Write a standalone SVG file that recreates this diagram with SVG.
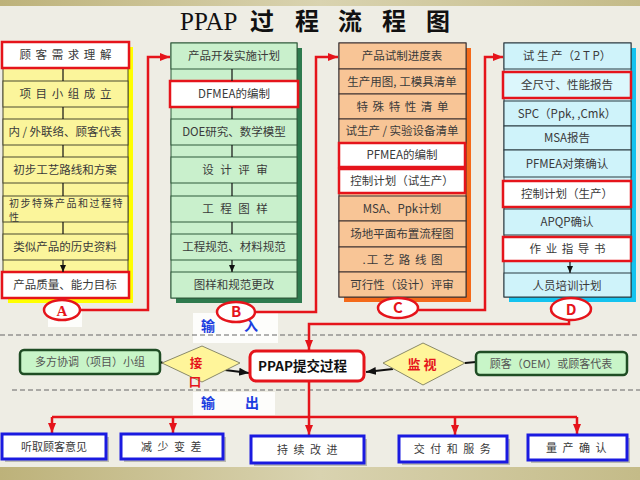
<svg xmlns="http://www.w3.org/2000/svg" width="640" height="480" viewBox="0 0 640 480">
<defs>
<linearGradient id="band" x1="0" y1="0" x2="1" y2="0">
<stop offset="0" stop-color="#bdb27a"/><stop offset="0.5" stop-color="#d9d3b0"/><stop offset="1" stop-color="#c4bb88"/>
</linearGradient>
<marker id="ar" markerWidth="10" markerHeight="10" refX="10" refY="5" orient="auto" markerUnits="userSpaceOnUse"><path d="M0,1 L10,5 L0,9 z" fill="#e5141b"/></marker>
<marker id="ab" markerWidth="10" markerHeight="10" refX="10" refY="5" orient="auto" markerUnits="userSpaceOnUse"><path d="M0,1 L10,5 L0,9 z" fill="#111"/></marker>
<marker id="as" markerWidth="7" markerHeight="7" refX="7" refY="3.5" orient="auto" markerUnits="userSpaceOnUse"><path d="M0,0.5 L7,3.5 L0,6.5 z" fill="#111"/></marker>
</defs>
<style>
text{font-family:"Noto Sans CJK SC","DejaVu Sans",sans-serif;}
.t{font-size:11.5px;fill:#3a3a3a;text-anchor:middle;}
.w1{letter-spacing:1px;}
.w2{letter-spacing:2px;}
.cA{fill:#fbf59b;stroke:#4a4a30;stroke-width:1;}
.cB{fill:#c9f0cc;stroke:#2e5a3a;stroke-width:1;}
.cC{fill:#f8c596;stroke:#3a3030;stroke-width:1;}
.cD{fill:#cff3fa;stroke:#2a3a40;stroke-width:1;}
.rb{fill:#fff;stroke:#e5141b;stroke-width:2.5;}
.rbd{fill:#dcf7fc;stroke:#e5141b;stroke-width:2.5;}
.circ{fill:#fff;stroke:#e5141b;stroke-width:2.5;}
.ct{font-size:15px;font-weight:bold;fill:#e5141b;text-anchor:middle;}
.red{fill:none;stroke:#e5141b;stroke-width:2.5;}
.gap{stroke:#111;stroke-width:1.2;fill:none;marker-end:url(#as);}
.gbox{fill:#c8f5c8;stroke:#1f4d24;stroke-width:2.5;}
.dia{fill:#fff59a;stroke:#8a8a6a;stroke-width:1;}
.bbox{fill:#fff;stroke:#1a1ae0;stroke-width:3;}
.sh{fill:#9a9a90;opacity:0.6;}
.bt{font-size:11px;fill:#3a3a3a;text-anchor:middle;letter-spacing:1.5px;}
.io{font-size:14px;font-weight:bold;fill:#1a3ce0;text-anchor:middle;}
.dt{font-size:13px;font-weight:bold;fill:#e5141b;text-anchor:middle;}
.dash{stroke:#666;stroke-width:1.2;stroke-dasharray:5,3;fill:none;}
</style>
<rect x="0" y="0" width="640" height="480" fill="#eeede4"/>
<rect x="0" y="0" width="640" height="6" fill="url(#band)"/>
<rect x="0" y="467" width="640" height="13" fill="url(#band)"/>

<g id="title">
<text x="180" y="30" font-size="25" fill="#111" style="font-family:'Liberation Serif',serif">PPAP</text>
<g font-size="24" font-weight="bold" fill="#111" text-anchor="middle">
<text x="262" y="30">过</text><text x="307" y="30">程</text><text x="350" y="30">流</text><text x="394" y="30">程</text><text x="438" y="30">图</text>
</g>
</g>

<!-- white backgrounds -->
<rect x="48" y="306" width="34" height="21" fill="#fff" opacity="0.85"/>
<rect x="193" y="313" width="85" height="30" fill="#fff" opacity="0.85"/>
<rect x="193" y="392" width="82" height="23" fill="#fff" opacity="0.85"/>

<!-- Column A -->
<g id="colA">
<rect x="8" y="47" width="125" height="256" fill="#ffff00"/>
<rect x="3" y="42" width="125" height="256" class="cA"/>
<g id="a1"><rect x="2" y="42" width="127" height="26" class="rb"/><text class="t w1" x="66" y="59">顾 客 需 求 理 解</text></g>
<g id="a2"><rect x="3" y="81" width="125" height="26" class="cA"/><text class="t w1" x="66" y="98">项 目 小 组 成 立</text></g>
<g id="a3"><rect x="3" y="119" width="125" height="26" class="cA"/><text class="t" x="65" y="136">内 / 外联络、顾客代表</text></g>
<g id="a4"><rect x="3" y="157" width="125" height="26" class="cA"/><text class="t" x="65" y="174">初步工艺路线和方案</text></g>
<g id="a5"><rect x="3" y="196" width="125" height="26" class="cA"/><text class="t" x="9" y="207" style="text-anchor:start;letter-spacing:1.5px;font-size:10px">初步特殊产品和过程特</text><text class="t" x="9" y="220.5" style="text-anchor:start;font-size:10px">性</text></g>
<g id="a6"><rect x="3" y="234" width="125" height="26" class="cA"/><text class="t" x="65" y="251">类似产品的历史资料</text></g>
<g id="a7"><rect x="2" y="272" width="127" height="26" class="rb"/><text class="t" x="65" y="289">产品质量、能力目标</text></g>
<path class="gap" d="M63,69 V81 M63,107 V119 M63,145 V157 M63,183 V196 M63,222 V234 M63,260 V272"/>
</g>

<!-- Column B -->
<g id="colB">
<rect x="176" y="48" width="126" height="255" fill="#2e7a4e"/>
<rect x="171" y="43" width="126" height="255" class="cB"/>
<g id="b1"><rect x="171" y="43" width="126" height="26" class="cB"/><text class="t" x="234" y="60">产品开发实施计划</text></g>
<g id="b2"><rect x="170" y="81" width="128" height="26" class="rb"/><text class="t" x="234" y="98">DFMEA的编制</text></g>
<g id="b3"><rect x="171" y="119" width="126" height="26" class="cB"/><text class="t" x="234" y="136">DOE研究、数学模型</text></g>
<g id="b4"><rect x="171" y="157" width="126" height="26" class="cB"/><text class="t w2" x="236" y="174">设 计 评 审</text></g>
<g id="b5"><rect x="171" y="196" width="126" height="26" class="cB"/><text class="t w2" x="236" y="213">工  程 图 样</text></g>
<g id="b6"><rect x="171" y="234" width="126" height="26" class="cB"/><text class="t" x="234" y="251">工程规范、材料规范</text></g>
<g id="b7"><rect x="171" y="272" width="126" height="26" class="cB"/><text class="t" x="234" y="289">图样和规范更改</text></g>
<path class="gap" d="M232,69 V81 M232,107 V119 M232,145 V157 M232,183 V196 M232,222 V234 M232,260 V272"/>
</g>

<!-- Column C -->
<g id="colC">
<rect x="344" y="48" width="127" height="254" fill="#f46a1a"/>
<rect x="339" y="43" width="127" height="254" class="cC"/>
<g id="c1"><rect x="339" y="43" width="127" height="26" class="cC"/><text class="t" x="402" y="60">产品试制进度表</text></g>
<g id="c2"><rect x="339" y="69" width="127" height="25" class="cC"/><text class="t" x="402" y="86">生产用图, 工模具清单</text></g>
<g id="c3"><rect x="339" y="94" width="127" height="25" class="cC"/><text class="t w1" x="403" y="111">特 殊 特 性 清 单</text></g>
<g id="c4"><rect x="339" y="119" width="127" height="24" class="cC"/><text class="t" x="402" y="135">试生产 / 实验设备清单</text></g>
<g id="c5"><rect x="339" y="143" width="126" height="24" class="rb"/><text class="t" x="402" y="159">PFMEA的编制</text></g>
<g id="c6"><rect x="339" y="169" width="126" height="24" class="rb"/><text class="t" x="402" y="185">控制计划（试生产）</text></g>
<g id="c7"><rect x="339" y="196" width="127" height="25" class="cC"/><text class="t" x="402" y="213">MSA、Ppk计划</text></g>
<g id="c8"><rect x="339" y="221" width="127" height="26" class="cC"/><text class="t" x="402" y="238">场地平面布置流程图</text></g>
<g id="c9"><rect x="339" y="247" width="127" height="25" class="cC"/><text class="t w1" x="403" y="264">.工 艺 路 线 图</text></g>
<g id="c10"><rect x="339" y="272" width="127" height="25" class="cC"/><text class="t" x="402" y="289">可行性（设计）评审</text></g>
</g>

<!-- Column D -->
<g id="colD">
<rect x="509" y="48" width="127" height="254" fill="#14c3ef"/>
<rect x="504" y="43" width="127" height="254" class="cD"/>
<g id="d1"><rect x="504" y="43" width="127" height="26" class="cD"/><text class="t" x="567" y="60">试 生 产（2 T P）</text></g>
<g id="d2"><rect x="503" y="72" width="128" height="26" class="rbd"/><text class="t" x="567" y="89">全尺寸、性能报告</text></g>
<g id="d3"><rect x="504" y="101" width="127" height="25" class="cD"/><text class="t" x="567" y="118">SPC（Ppk, ,Cmk）</text></g>
<g id="d4"><rect x="504" y="126" width="127" height="24" class="cD"/><text class="t" x="567" y="142">MSA报告</text></g>
<g id="d5"><rect x="504" y="150" width="127" height="27" class="cD"/><text class="t" x="567" y="168">PFMEA对策确认</text></g>
<g id="d6"><rect x="503" y="181" width="128" height="26" class="rb"/><text class="t" x="567" y="198">控制计划（生产）</text></g>
<g id="d7"><rect x="504" y="209" width="127" height="26" class="cD"/><text class="t" x="567" y="226">APQP确认</text></g>
<g id="d8"><rect x="503" y="237" width="128" height="24" class="rb"/><text class="t w1" x="568" y="253">作 业 指 导 书</text></g>
<g id="d9"><rect x="504" y="273" width="127" height="24" class="cD"/><text class="t" x="567" y="290">人员培训计划</text></g>
<path class="gap" d="M570,262 V273"/>
</g>

<!-- dashed separators -->
<path class="dash" d="M0,335 H640 M12,390 H640"/>

<g id="io">
<text class="io" x="208" y="331">输</text><text class="io" x="251" y="331">入</text>
<text class="io" x="208" y="408">输</text><text class="io" x="252" y="408">出</text>
</g>

<!-- connectors -->
<g id="connectors">
<path class="red" d="M80,310 H148 V57 H170" marker-end="url(#ar)"/>
<path class="red" d="M255,312 H316 V57 H338" marker-end="url(#ar)"/>
<path class="red" d="M418,310 H485 V57 H503" marker-end="url(#ar)"/>
<path class="red" d="M569,320 V324 H309 V350" marker-end="url(#ar)"/>
<path class="red" d="M309,382 V435" marker-end="url(#ar)"/>
<path class="red" d="M52,417 H577"/>
<path class="red" d="M52,417 V433" marker-end="url(#ar)"/>
<path class="red" d="M173,417 V433" marker-end="url(#ar)"/>
<path class="red" d="M455,417 V435" marker-end="url(#ar)"/>
<path class="red" d="M577,417 V434" marker-end="url(#ar)"/>
<path d="M225,370 L249,373" stroke="#111" stroke-width="2.2" fill="none" marker-end="url(#ab)"/>
<path d="M393,369 L366,372" stroke="#111" stroke-width="2.2" fill="none" marker-end="url(#ab)"/>
<path d="M160,362 L163,363 M465,363 L476,362" stroke="#111" stroke-width="2" fill="none"/>
</g>

<!-- circles -->
<g id="circA"><ellipse cx="62" cy="310" rx="18" ry="10" class="circ"/><text class="ct" x="62" y="316" style="font-family:'Liberation Serif',serif">A</text></g>
<g id="circB"><ellipse cx="236" cy="312" rx="19" ry="10" class="circ"/><text class="ct" x="236" y="317">B</text></g>
<g id="circC"><ellipse cx="398" cy="308" rx="20" ry="10" class="circ"/><text class="ct" x="398" y="313">C</text></g>
<g id="circD"><ellipse cx="571" cy="309" rx="20" ry="11" class="circ"/><text class="ct" x="571" y="315">D</text></g>

<!-- middle row -->
<g id="team"><rect x="20" y="350" width="140" height="24" rx="4" class="gbox"/><text x="90" y="366" font-size="11" fill="#555" text-anchor="middle">多方协调（项目）小组</text></g>
<g id="iface"><polygon points="162,363 202,346 240,363 202,382" class="dia"/><text class="dt" x="196" y="368" style="font-size:12.5px">接</text><text class="dt" x="195" y="387" style="font-size:12.5px">口</text></g>
<g id="ppap"><rect x="250" y="351" width="114" height="30" rx="6" fill="#fff" stroke="#e5141b" stroke-width="3"/><text x="258" y="371" font-size="13.5" font-weight="bold" fill="#111">PPAP提交过程</text></g>
<g id="monitor"><polygon points="383,363 423,343 465,363 423,385" class="dia"/><text class="dt" x="422" y="369">监 视</text></g>
<g id="oem"><rect x="476" y="352" width="151" height="23" rx="4" class="gbox"/><text x="551" y="368" font-size="11" fill="#555" text-anchor="middle">顾客（OEM）或顾客代表</text></g>

<!-- outputs -->
<g id="o1"><rect x="5" y="437" width="104" height="25" class="sh"/><rect x="2" y="434" width="104" height="25" class="bbox"/><text class="bt" x="54" y="451" style="letter-spacing:0">听取顾客意见</text></g>
<g id="o2"><rect x="124" y="437" width="102" height="25" class="sh"/><rect x="121" y="434" width="102" height="25" class="bbox"/><text class="bt" x="172" y="451">减 少 变 差</text></g>
<g id="o3"><rect x="254" y="439" width="113" height="27" class="sh"/><rect x="251" y="436" width="113" height="27" class="bbox"/><text class="bt" x="308" y="454">持 续 改 进</text></g>
<g id="o4"><rect x="402" y="439" width="108" height="26" class="sh"/><rect x="399" y="436" width="108" height="26" class="bbox"/><text class="bt" x="453" y="453">交 付 和 服 务</text></g>
<g id="o5"><rect x="531" y="438" width="99" height="25" class="sh"/><rect x="528" y="435" width="99" height="25" class="bbox"/><text class="bt" x="577" y="452">量 产 确 认</text></g>
</svg>
